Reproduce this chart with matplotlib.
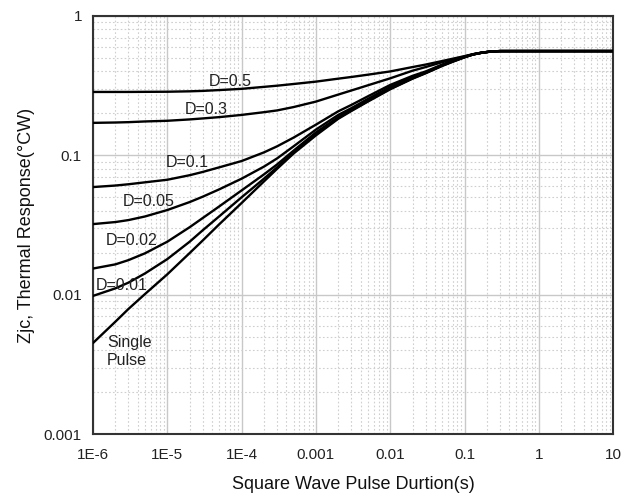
import matplotlib
matplotlib.use("Agg")
import matplotlib.pyplot as plt
from matplotlib.ticker import FixedLocator, NullFormatter, LogLocator

plt.rcParams['font.family'] = ['Liberation Sans', 'DejaVu Sans']

# pulse duration (s)
t = [1e-6, 2e-6, 3e-6, 5e-6, 1e-5, 2e-5, 3e-5, 5e-5, 1e-4, 2e-4, 3e-4, 5e-4,
     1e-3, 2e-3, 3e-3, 5e-3, 1e-2, 2e-2, 3e-2, 5e-2, 0.07, 0.1, 0.13, 0.17, 0.22, 0.3, 1, 10]

# thermal response (°C/W) per duty cycle
z_d05 = [0.285, 0.285, 0.285, 0.2855, 0.286, 0.288, 0.290, 0.294, 0.300, 0.310, 0.316, 0.325,
         0.338, 0.355, 0.365, 0.379, 0.400, 0.430, 0.448, 0.475, 0.494, 0.515, 0.532, 0.546, 0.555, 0.560, 0.560, 0.560]
z_d03 = [0.171, 0.172, 0.173, 0.175, 0.177, 0.181, 0.184, 0.188, 0.195, 0.204, 0.210, 0.222,
         0.243, 0.273, 0.292, 0.318, 0.357, 0.405, 0.430, 0.466, 0.488, 0.512, 0.531, 0.545, 0.555, 0.560, 0.560, 0.560]
z_d01 = [0.0592, 0.0607, 0.0620, 0.0640, 0.0668, 0.0720, 0.0760, 0.0820, 0.0910, 0.105, 0.116, 0.134,
         0.166, 0.207, 0.230, 0.265, 0.320, 0.372, 0.400, 0.448, 0.478, 0.509, 0.530, 0.545, 0.555, 0.560, 0.560, 0.560]
z_d005 = [0.0321, 0.0332, 0.0343, 0.0364, 0.0405, 0.0462, 0.0505, 0.0570, 0.068, 0.083, 0.095, 0.116,
          0.153, 0.195, 0.218, 0.254, 0.310, 0.364, 0.395, 0.445, 0.476, 0.508, 0.530, 0.545, 0.555, 0.560, 0.560, 0.560]
z_d002 = [0.0154, 0.0165, 0.0177, 0.0198, 0.0240, 0.0305, 0.0355, 0.0430, 0.056, 0.073, 0.086, 0.108,
          0.146, 0.188, 0.213, 0.248, 0.303, 0.359, 0.392, 0.442, 0.474, 0.507, 0.530, 0.545, 0.555, 0.560, 0.560, 0.560]
z_d001 = [0.0098, 0.0111, 0.0122, 0.0142, 0.0180, 0.0240, 0.0290, 0.0365, 0.0500, 0.068, 0.082, 0.105,
          0.142, 0.185, 0.210, 0.245, 0.300, 0.357, 0.390, 0.440, 0.472, 0.506, 0.529, 0.545, 0.555, 0.560, 0.560, 0.560]
z_single = [0.0045, 0.0064, 0.0079, 0.0101, 0.0140, 0.0199, 0.0245, 0.0320, 0.0455, 0.065, 0.080, 0.103,
            0.139, 0.183, 0.208, 0.243, 0.298, 0.355, 0.388, 0.438, 0.470, 0.505, 0.529, 0.544, 0.554, 0.559, 0.560, 0.560]

series = [z_d05, z_d03, z_d01, z_d005, z_d002, z_d001, z_single]

x_ticks = [1e-6, 1e-5, 1e-4, 1e-3, 1e-2, 0.1, 1, 10]
x_tick_labels = ["1E-6", "1E-5", "1E-4", "0.001", "0.01", "0.1", "1", "10"]
y_ticks = [0.001, 0.01, 0.1, 1]
y_tick_labels = ["0.001", "0.01", "0.1", "1"]

fig = plt.figure(figsize=(6.35, 4.98), dpi=100)
ax = fig.add_axes([0.1465, 0.1285, 0.819, 0.8394])
ax.set_xscale('log')
ax.set_yscale('log')
ax.set_xlim(1e-6, 10)
ax.set_ylim(0.001, 1)

for z in series:
    ax.plot(t, z, color='black', lw=1.7, solid_capstyle='round', solid_joinstyle='round', zorder=3)

ax.xaxis.set_major_locator(FixedLocator(x_ticks))
ax.set_xticklabels(x_tick_labels)
ax.yaxis.set_major_locator(FixedLocator(y_ticks))
ax.set_yticklabels(y_tick_labels)
ax.xaxis.set_minor_locator(LogLocator(base=10, subs=[2, 3, 4, 5, 6, 7, 8, 9], numticks=20))
ax.yaxis.set_minor_locator(LogLocator(base=10, subs=[2, 3, 4, 5, 6, 7, 8, 9], numticks=20))
ax.xaxis.set_minor_formatter(NullFormatter())
ax.yaxis.set_minor_formatter(NullFormatter())

ax.grid(True, which='major', color='#c8c8c8', lw=1.0, ls='-', zorder=0)
ax.grid(True, which='minor', color='#cfcfcf', lw=0.8, ls=(0, (1.5, 2)), zorder=0)
ax.tick_params(which='both', length=0, labelsize=11, colors='#222222')
ax.tick_params(axis='x', pad=10)
ax.tick_params(axis='y', pad=8)
for s in ax.spines.values():
    s.set_color('#333333')
    s.set_linewidth(1.5)

ax.set_xlabel("Square Wave Pulse Durtion(s)", fontsize=13, color='#111111')
ax.set_ylabel("Zjc, Thermal Response(°CW)", fontsize=13, color='#111111')
ax.xaxis.set_label_coords(0.5, -0.10)
ax.yaxis.set_label_coords(-0.112, 0.5)

lab_kw = dict(fontsize=11.5, color='#222222', ha='center', va='center', zorder=4)
ax.text(7e-5, 0.341, "D=0.5", **lab_kw)
ax.text(3.32e-5, 0.215, "D=0.3", **lab_kw)
ax.text(1.84e-5, 0.0895, "D=0.1", **lab_kw)
ax.text(5.68e-6, 0.047, "D=0.05", **lab_kw)
ax.text(3.35e-6, 0.0244, "D=0.02", **lab_kw)
ax.text(2.42e-6, 0.0117, "D=0.01", **lab_kw)
ax.text(1.55e-6, 0.0039, "Single\nPulse", fontsize=11.5, color='#222222',
        ha='left', va='center', linespacing=1.3, zorder=4)

fig.savefig("out.png", dpi=100)
